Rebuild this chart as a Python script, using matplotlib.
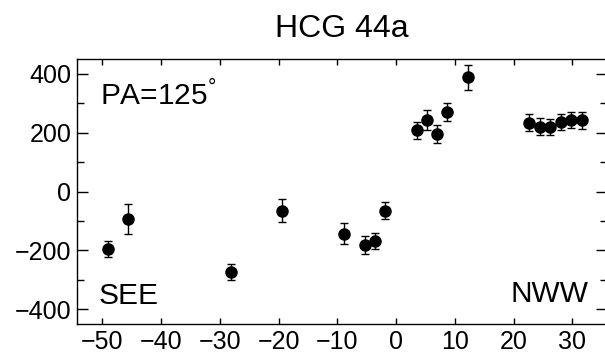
import numpy as np
import matplotlib
matplotlib.use('Agg')
import matplotlib.pyplot as plt

plt.rcParams['font.family'] = ['Liberation Sans', 'DejaVu Sans']
plt.rcParams['mathtext.fontset'] = 'custom'
plt.rcParams['mathtext.rm'] = 'Liberation Sans'
plt.rcParams['mathtext.it'] = 'Liberation Sans'

# rotation curve points along the slit
pos = [-49.1, -45.6, -28.1, -19.4, -8.9, -5.3, -3.5, -1.8,
       3.5, 5.2, 6.9, 8.7, 12.2,
       22.7, 24.5, 26.2, 28.0, 29.7, 31.6]
vel = [-196, -94, -274, -66, -143, -181, -168, -65,
       208, 243, 196, 271, 388,
       234, 220, 218, 236, 242, 242]
err = [28, 52, 27, 39, 35, 30, 28, 28,
       28, 34, 30, 30, 42,
       28, 28, 27, 27, 27, 29]

title = 'HCG 44a'
pa_label = r'PA=125$^{\mathrm{°}}$'
xticks = [-50, -40, -30, -20, -10, 0, 10, 20, 30]
yticks = [-400, -200, 0, 200, 400]

fig = plt.figure(figsize=(6.05, 3.56), dpi=100)
ax = fig.add_axes([77/605, 32/356, 530/605, 265/356])

ax.errorbar(pos, vel, yerr=err, fmt='o', color='k', ms=8, capsize=3,
            elinewidth=1, capthick=1)

ax.set_xlim(-54.3, 35.9)
ax.set_ylim(-450, 450)
ax.set_xticks(xticks)
ax.set_yticks(yticks)
ax.set_yticks(np.arange(-300, 400, 200), minor=True)
ax.tick_params(axis='both', which='both', direction='in', labelsize=18, pad=4,
               top=True, right=True, width=1)
ax.tick_params(axis='x', which='major', length=4.5)
ax.tick_params(axis='y', which='both', length=5)
# the zero tick is drawn longer
for t in ax.yaxis.get_major_ticks():
    if t.get_loc() == 0:
        t.tick1line.set_markersize(8)
        t.tick2line.set_markersize(8)
for s in ax.spines.values():
    s.set_linewidth(1)

ax.set_title(title, fontsize=23, pad=16)
ax.text(0.044, 0.826, pa_label, transform=ax.transAxes, fontsize=21.5,
        ha='left', va='baseline')
ax.text(0.040, 0.075, 'SEE', transform=ax.transAxes, fontsize=21.5,
        ha='left', va='baseline')
ax.text(0.966, 0.083, 'NWW', transform=ax.transAxes, fontsize=21.5,
        ha='right', va='baseline')

fig.savefig('out.png', dpi=100)
